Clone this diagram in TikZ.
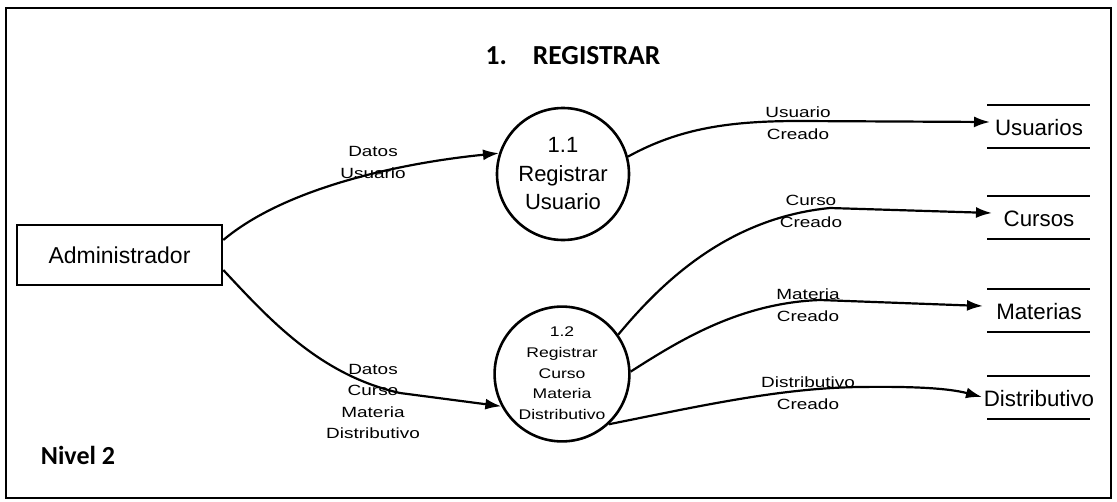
\documentclass[tikz,border=0pt]{standalone}
\usepackage{fontspec}
\setmainfont{Liberation Sans}
\newfontfamily\calibrifont{Carlito}
\usepackage{graphicx}
\usetikzlibrary{arrows.meta}
\newcommand{\stretchlbl}[1]{\scalebox{1.28}[1]{\begin{tabular}{@{}c@{}}#1\end{tabular}}}
\begin{document}
\begin{tikzpicture}[x=1pt,y=-1pt,
  flow/.style={line width=2.2pt,-{Latex[length=16pt,width=11pt]}},
  lbl/.style={inner sep=0pt,font=\fontsize{14.8}{21.5}\selectfont},
  proc/.style={circle,draw,line width=2.6pt,minimum size=132pt,inner sep=0pt,align=center},
  entity/.style={draw,line width=2.6pt,minimum width=205pt,minimum height=60pt,inner sep=0pt,font=\fontsize{23}{27}\selectfont},
  store/.style={inner sep=0pt,font=\fontsize{22.3}{26}\selectfont},
  sline/.style={line width=2.2pt},
  heading/.style={inner sep=0pt,font=\calibrifont\bfseries\fontsize{27.5}{32}\selectfont}]
\useasboundingbox (0,0) rectangle (1117,501);
\draw[line width=2.6pt] (6,8) rectangle (1111,498);

\node[heading] (title) at (573,56) {1.\hspace{26pt}REGISTRAR};
\node[heading,font=\calibrifont\bfseries\fontsize{26}{30}\selectfont] (nivel) at (78,455) {Nivel 2};

\node[entity] (adm) at (119.5,255) {Administrador};

\node[proc,font=\fontsize{22}{28.5}\selectfont] (p11) at (563,174) {1.1\\Registrar\\Usuario};
\node[proc,font=\fontsize{14}{20.75}\selectfont] (p12) at (562,374) {\scalebox{0.98}[1]{\stretchlbl{1.2\\Registrar\\Curso\\Materia\\Distributivo}}};

\node[store] (su) at (1039,128) {Usuarios};
\node[store] (sc) at (1039,219) {Cursos};
\node[store] (sm) at (1039,312) {Materias};
\node[store] (sd) at (1039,399) {Distributivo};
\foreach \s in {su,sc,sm,sd}{
  \draw[sline] ([shift={(-52,-23)}]\s.center) -- ([shift={(51,-23)}]\s.center);
  \draw[sline] ([shift={(-52,20)}]\s.center) -- ([shift={(51,20)}]\s.center);
}

% labels
\node[lbl] (l1) at (373,163) {\stretchlbl{Datos\\Usuario}};
\node[lbl] (l2) at (798,124) {\stretchlbl{Usuario\\Creado}};
\node[lbl] (l3) at (811,212) {\stretchlbl{Curso\\Creado}};
\node[lbl] (l4) at (808,306) {\stretchlbl{Materia\\Creado}};
\node[lbl] (l5) at (808,394) {\stretchlbl{Distributivo\\Creado}};
\node[lbl] (l6) at (373,402) {\stretchlbl{Datos\\Curso\\Materia\\Distributivo}};

% flows
\draw[flow] ([shift={(0,-15)}]adm.east) .. controls (285,188) and (400,163) .. (p11.162);
\draw[flow] ([shift={(0,15)}]adm.east) .. controls (270,320) and (320,375) .. (400,393) -- (p12.208);
\draw[flow] (p11.15) .. controls (680,128) and (730,121) .. (800,121) -- ([shift={(-49,-6)}]su.center);
\draw[flow] (p12.35) .. controls (662,282) and (728,218) .. (830,208) -- ([shift={(-47,-6)}]sc.center);
\draw[flow] (p12.2) .. controls (680,340) and (740,303) .. (820,300) -- ([shift={(-56,-6)}]sm.center);
\draw[flow] (p12.-47) .. controls (700,406) and (780,388) .. (860,387) .. controls (930,386) and (955,390) .. ([shift={(-57,-2)}]sd.center);
\end{tikzpicture}
\end{document}
